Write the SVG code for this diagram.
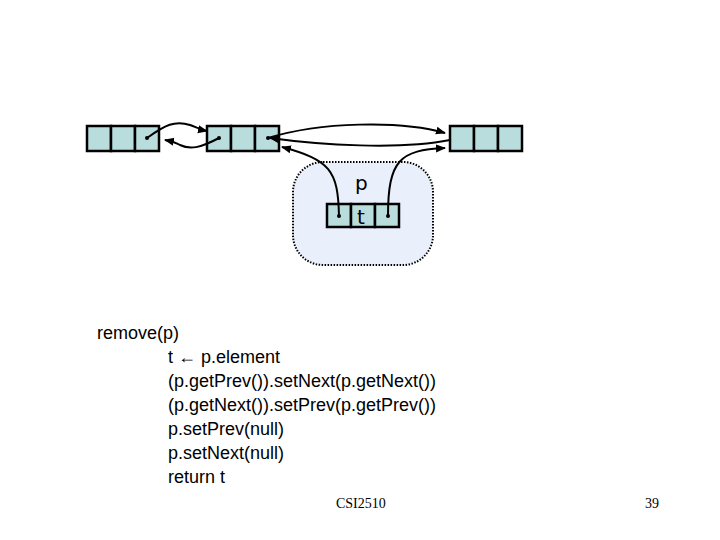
<svg xmlns="http://www.w3.org/2000/svg" width="720" height="540" viewBox="0 0 720 540">
<style>
.cell{fill:#b9dcdc;stroke:#000;stroke-width:2.5}
.c{fill:none;stroke:#000;stroke-width:2}
.t{font-family:"Liberation Sans",Arial,sans-serif;font-size:18px;fill:#000}
.s{font-family:"Liberation Serif","Times New Roman",serif;font-size:14px;fill:#000}
.lbl{font-family:"DejaVu Sans",sans-serif;font-size:20px;fill:#000}
</style>
<defs>
<marker id="a" viewBox="0 0 10 10" refX="9" refY="5" markerWidth="5" markerHeight="5" orient="auto"><path d="M0,1 L10,5 L0,9 z" fill="#000"/></marker>
</defs>
<rect width="720" height="540" fill="#fff"/>
<g id="pregion">
<rect x="293" y="162" width="140" height="103" rx="30" fill="#eaf0fb" stroke="#000" stroke-width="2" stroke-dasharray="1.5 1.5"/>
<text class="lbl" x="355" y="190">p</text>
</g>
<g id="n1"><rect class="cell" x="87" y="126" width="24" height="25"/><rect class="cell" x="111" y="126" width="24" height="25"/><rect class="cell" x="135" y="126" width="24" height="25"/></g>
<g id="n2"><rect class="cell" x="207" y="126" width="24" height="25"/><rect class="cell" x="231" y="126" width="24" height="25"/><rect class="cell" x="255" y="126" width="24" height="25"/></g>
<g id="n3"><rect class="cell" x="450" y="126" width="24" height="25"/><rect class="cell" x="474" y="126" width="24" height="25"/><rect class="cell" x="498" y="126" width="24" height="25"/></g>
<g id="np"><rect class="cell" x="327" y="204" width="24" height="23"/><rect class="cell" x="351" y="204" width="24" height="23"/><rect class="cell" x="375" y="204" width="24" height="23"/>
<text class="lbl" x="357" y="224">t</text></g>
<g id="connectors">
<circle cx="147" cy="138" r="2" fill="#000"/><circle cx="219" cy="138" r="2" fill="#000"/><circle cx="268" cy="138" r="2" fill="#000"/><circle cx="339" cy="216" r="2" fill="#000"/><circle cx="388" cy="216" r="2" fill="#000"/>
<path class="c" d="M147,138 C165,125 175,120 190,125 C198,128 202,130 207,131" marker-end="url(#a)"/>
<path class="c" d="M219,138 C200,148 190,150 180,145 C175,142 170,141 165,140" marker-end="url(#a)"/>
<path class="c" d="M268,138 C320,122 400,120 445,133" marker-end="url(#a)"/>
<path class="c" d="M450,140 C400,150 320,145 270,138" marker-end="url(#a)"/>
<path class="c" d="M339,216 C338,170 330,160 282,147" marker-end="url(#a)"/>
<path class="c" d="M388,216 C388,160 400,150 445,148" marker-end="url(#a)"/>
</g>
<g id="code">
<text class="t" x="97" y="339">remove(p)</text>
<text class="t" x="168" y="363">t ← p.element</text>
<text class="t" x="168" y="387">(p.getPrev()).setNext(p.getNext())</text>
<text class="t" x="168" y="411">(p.getNext()).setPrev(p.getPrev())</text>
<text class="t" x="168" y="435">p.setPrev(null)</text>
<text class="t" x="168" y="459">p.setNext(null)</text>
<text class="t" x="168" y="483">return t</text>
</g>
<text class="s" x="336" y="508">CSI2510</text>
<text class="s" x="645" y="508">39</text>
</svg>
